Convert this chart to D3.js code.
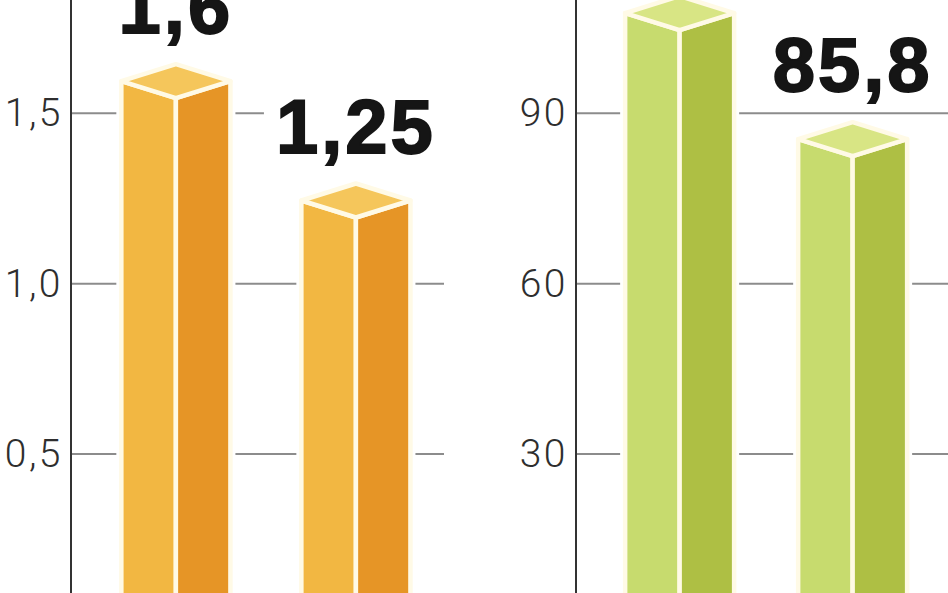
<!DOCTYPE html>
<html>
<head>
<meta charset="utf-8">
<script src="https://cdn.jsdelivr.net/npm/d3@7"></script>
<style>
  html, body { margin: 0; padding: 0; background: #ffffff; }
  svg { display: block; }
</style>
</head>
<body>
<svg id="chart" width="948" height="593"></svg>
<script>
// ---- data ----
const categories = ["I", "II"];
const leftValues = [1.6, 1.25];
const rightValues = [108, 85.8];
const leftTicks = [0.5, 1.0, 1.5];
const rightTicks = [30, 60, 90];

// ---- formatting (Polish decimal comma) ----
const plLocale = d3.formatLocale({ decimal: ",", thousands: " ", grouping: [3], currency: ["", " zł"] });
const fmtTick = v => plLocale.format(",.1f")(v);
const fmtInt = v => plLocale.format("d")(v);
const fmtVal = v => plLocale.format("~g")(v);

const panels = [
  {
    values: leftValues, ticks: leftTicks, tickFmt: fmtTick,
    domainTop: 1.5, x0: 71, x1: 444, pi: 0.394, po: 0.233, align: 0.6,
    colors: { top: "#F5C65B", left: "#F2B742", right: "#E69526" },
    labelBg: true
  },
  {
    values: rightValues, ticks: rightTicks, tickFmt: fmtInt,
    domainTop: 90, x0: 576, x1: 949, pi: 0.37, po: 0.263, align: 0.54,
    colors: { top: "#D8E584", left: "#C7DB6E", right: "#AEBF44" },
    labelBg: false
  }
];

const svg = d3.select("#chart");
const yZero = 624.5, yTopTick = 113.3;
const depth = 17;

panels.forEach(p => {
  const g = svg.append("g");
  const x = d3.scaleBand().domain(categories).range([p.x0, p.x1])
    .paddingInner(p.pi).paddingOuter(p.po).align(p.align);
  const y = d3.scaleLinear().domain([0, p.domainTop]).range([yZero, yTopTick]);

  // gridlines
  g.append("g").selectAll("line").data(p.ticks).join("line")
    .attr("x1", p.x0).attr("x2", p.x1)
    .attr("y1", d => y(d)).attr("y2", d => y(d))
    .attr("stroke", "#8c8c8c").attr("stroke-width", 2);

  // tick labels
  g.append("g").selectAll("text").data(p.ticks).join("text")
    .attr("x", p.x0 - 8).attr("y", d => y(d) + 13)
    .attr("text-anchor", "end")
    .attr("font-family", "Roboto, 'Liberation Sans', sans-serif")
    .attr("font-weight", 300)
    .attr("font-size", 39)
    .attr("letter-spacing", 2.5)
    .attr("fill", "#2e2e2e")
    .text(d => p.tickFmt(d));

  // bars
  const bars = g.append("g").selectAll("g").data(p.values.map((v, i) => ({ v, c: categories[i] })))
    .join("g");

  const geom = d => {
    const xl = x(d.c), xr = x(d.c) + x.bandwidth(), xc = x(d.c) + x.bandwidth() / 2;
    const yt = y(d.v) + 2, yb = 700;
    return { xl, xr, xc, yt, yb };
  };
  const outline = d => {
    const { xl, xr, xc, yt, yb } = geom(d);
    return [[xl, yt], [xc, yt - depth], [xr, yt], [xr, yb], [xl, yb]];
  };
  const leftFace = d => {
    const { xl, xc, yt, yb } = geom(d);
    return [[xl, yt], [xc, yt + depth], [xc, yb], [xl, yb]];
  };
  const rightFace = d => {
    const { xr, xc, yt, yb } = geom(d);
    return [[xc, yt + depth], [xr, yt], [xr, yb], [xc, yb]];
  };
  const topFace = d => {
    const { xl, xr, xc, yt } = geom(d);
    return [[xl, yt], [xc, yt - depth], [xr, yt], [xc, yt + depth]];
  };
  const line = d3.line();

  bars.append("path").attr("d", d => line(outline(d)) + "Z")
    .attr("fill", "#fff").attr("stroke", "#fff").attr("stroke-width", 10)
    .attr("stroke-linejoin", "round");
  bars.append("path").attr("d", d => line(leftFace(d)) + "Z")
    .attr("fill", p.colors.left).attr("stroke", "#FFFAE6").attr("stroke-width", 4.5)
    .attr("stroke-linejoin", "round");
  bars.append("path").attr("d", d => line(rightFace(d)) + "Z")
    .attr("fill", p.colors.right).attr("stroke", "#FFFAE6").attr("stroke-width", 4.5)
    .attr("stroke-linejoin", "round");
  bars.append("path").attr("d", d => line(topFace(d)) + "Z")
    .attr("fill", p.colors.top).attr("stroke", "#FFFAE6").attr("stroke-width", 4.5)
    .attr("stroke-linejoin", "round");

  // value labels
  const labels = bars.append("g");
  labels.each(function(d) {
    const { xc, yt } = geom(d);
    const lg = d3.select(this);
    const t = lg.append("text")
      .attr("x", xc).attr("y", yt - depth - 31)
      .attr("text-anchor", "middle")
      .attr("font-family", "'Liberation Sans', Arial, sans-serif")
      .attr("font-weight", 700)
      .attr("font-size", 76)
      .attr("letter-spacing", 3)
      .attr("fill", "#151515")
      .attr("stroke", "#151515").attr("stroke-width", 1.8)
      .text(fmtVal(d.v));
    if (p.labelBg) {
      const bb = t.node().getBBox();
      lg.insert("rect", "text")
        .attr("x", bb.x - 12).attr("y", bb.y + 10)
        .attr("width", bb.width + 26).attr("height", bb.height - 10)
        .attr("fill", "#fff");
    }
  });

  // axis line
  g.append("line")
    .attr("x1", p.x0).attr("x2", p.x0).attr("y1", 0).attr("y2", 593)
    .attr("stroke", "#333").attr("stroke-width", 2);
});
</script>
</body>
</html>
